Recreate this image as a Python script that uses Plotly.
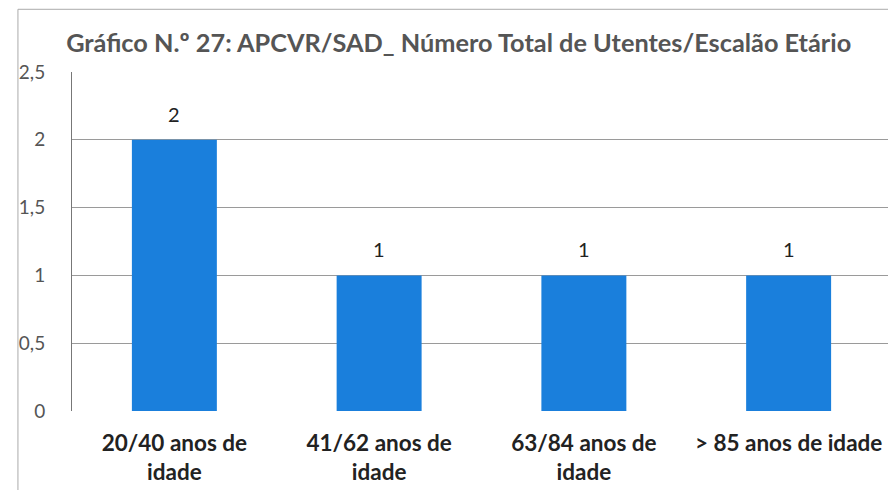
import plotly.graph_objects as go

categories = ["20/40 anos de<br>idade", "41/62 anos de<br>idade", "63/84 anos de<br>idade", "> 85 anos de idade"]
values = [2, 1, 1, 1]
tick_vals = [0, 0.5, 1, 1.5, 2, 2.5]
tick_text = ["0", "0,5", "1", "1,5", "2", "2,5"]
title_text = "Gráfico N.º 27: APCVR/SAD_ Número Total de Utentes/Escalão Etário"

fig = go.Figure(go.Bar(
    x=categories, y=values,
    marker=dict(color="#1a7fdc", line=dict(width=0)),
))

for c, v in zip(categories, values):
    fig.add_annotation(x=c, y=v, text=str(v), showarrow=False,
                       yanchor="bottom", yshift=12,
                       font=dict(size=20, color="#222222", family="Lato"))

fig.update_layout(
    width=896, height=490,
    margin=dict(l=64, r=13, t=64, b=87, autoexpand=False),
    paper_bgcolor="white", plot_bgcolor="white",
    separators=",.",
    bargap=0.585,
    showlegend=False,
    font=dict(family="Lato", color="#444444"),
    title=dict(text="<b>" + title_text + "</b>", x=0.503, xanchor="center",
               y=0.929, yanchor="middle",
               font=dict(size=25.3, color="#555555", family="Lato")),
)
fig.update_yaxes(range=[0, 2.5], tickvals=tick_vals, ticktext=tick_text,
                 showgrid=True, gridcolor="#9a9a9a", gridwidth=1,
                 zeroline=False, showline=True, linecolor="#777777",
                 tickfont=dict(size=19, color="#555555"), ticks="",
                 ticklabelstandoff=22, automargin=False)
fig.update_xaxes(showgrid=False, showline=False, automargin=False,
                 tickfont=dict(size=22.5, color="#222222", family="Lato"),
                 tickangle=0, tickprefix="<b>", ticksuffix="</b>",
                 ticklabelstandoff=16)

# faint scanned frame
fig.add_shape(type="line", xref="paper", yref="paper", x0=-0.066, x1=-0.066, y0=-0.27, y1=1.185,
              line=dict(color="#aaaaaa", width=1))
fig.add_shape(type="line", xref="paper", yref="paper", x0=-0.066, x1=1.02, y0=1.185, y1=1.185,
              line=dict(color="#aaaaaa", width=1))

fig.write_html("out.html")
